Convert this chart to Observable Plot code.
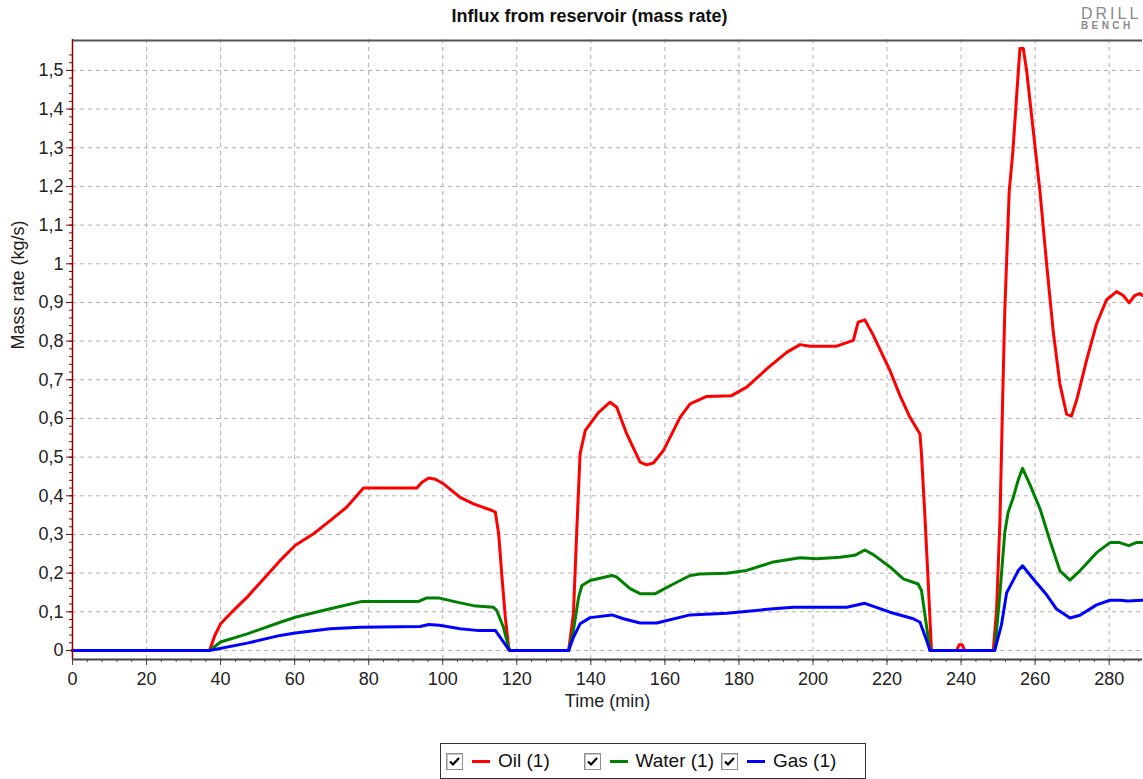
<!DOCTYPE html>
<html>
<head>
<meta charset="utf-8">
<script src="https://cdn.jsdelivr.net/npm/d3@7"></script>
<script src="https://cdn.jsdelivr.net/npm/@observablehq/plot@0.6"></script>
<style>
  html, body { margin: 0; padding: 0; background: #fff; }
  body { width: 1143px; height: 779px; position: relative; overflow: hidden;
         font-family: "Liberation Sans", Arial, sans-serif; }
  #title { position: absolute; left: 0; top: 6px; width: 1179px; text-align: center;
           font-weight: bold; font-size: 18px; line-height: 20px; color: #111; }
  #logo { position: absolute; left: 1081px; top: 6px; color: #8a8a8a; white-space: nowrap; }
  #logo .l1 { font-size: 16px; letter-spacing: 3px; line-height: 15px; }
  #logo .l2 { font-size: 10px; letter-spacing: 3.4px; line-height: 10px; font-weight: bold; }
  #chart { position: absolute; left: 0; top: 32px; }
  #legend { position: absolute; left: 440px; top: 743px; width: 426px; height: 36px;
            box-sizing: border-box; border: 1px solid #333; display: flex; align-items: center;
            padding-left: 5px; font-size: 19px; color: #111; }
  .item { width: 137.5px; flex: none; display: flex; align-items: center; }
  .item:last-child { width: auto; }
  .cb { width: 17px; height: 17px; box-sizing: border-box; border: 1px solid #8f8f8f;
        background: #fff; box-shadow: inset 1px 1px 0 #c8c8c8; flex: none; }
  .cb svg { display: block; }
  .sw { width: 18px; height: 3px; margin: 0 8px 0 9px; flex: none; }
</style>
</head>
<body>
<div id="title">Influx from reservoir (mass rate)</div>
<div id="logo"><div class="l1">DRILL</div><div class="l2">BENCH</div></div>
<div id="chart"></div>
<div id="legend"></div>
<script>
// ---- data ----
const seriesNames = ["Oil (1)", "Water (1)", "Gas (1)"];
const seriesColors = ["#ff0000", "#008000", "#0000ff"];

const oilTime = [0, 37, 38.5, 40, 42.6, 45, 47.2, 51.6, 56.1, 60.2, 65.1, 69.6, 74.1, 78.6, 93, 94.4, 96.2, 98, 100.2, 104.7, 108.3, 113.3, 114.2, 115.1, 116, 116.9, 117.8, 118.2, 134, 135.3, 136.2, 137.1, 138.5, 139.8, 142.1, 145.2, 147, 149.7, 153.3, 155, 156.9, 159.6, 164.1, 166.8, 171.3, 178, 182.1, 187.5, 192.9, 196.5, 199.2, 206.4, 210.9, 212.2, 214, 216.3, 220.8, 223.5, 226.2, 228.9, 229.3, 230.2, 231.1, 232, 238.8, 239.5, 240.3, 241, 248.7, 249.6, 250.5, 251.2, 251.8, 252.4, 253, 254, 255.1, 255.9, 256.8, 257.7, 259.5, 261.3, 263.1, 264.9, 266.7, 268.5, 269.8, 271.2, 273.9, 276.6, 279.3, 282, 283.8, 285.4, 286.9, 288.3, 289];
const oilRate = [0, 0, 0.04, 0.069, 0.095, 0.118, 0.138, 0.185, 0.233, 0.272, 0.302, 0.336, 0.371, 0.42, 0.42, 0.435, 0.446, 0.443, 0.431, 0.396, 0.379, 0.362, 0.358, 0.302, 0.19, 0.086, 0.009, 0, 0, 0.095, 0.31, 0.509, 0.569, 0.586, 0.616, 0.642, 0.629, 0.56, 0.487, 0.48, 0.485, 0.517, 0.603, 0.638, 0.657, 0.659, 0.681, 0.728, 0.771, 0.791, 0.787, 0.787, 0.802, 0.849, 0.855, 0.815, 0.724, 0.659, 0.603, 0.56, 0.509, 0.353, 0.181, 0, 0, 0.015, 0.015, 0, 0, 0.107, 0.336, 0.637, 0.876, 1.032, 1.188, 1.292, 1.448, 1.557, 1.557, 1.5, 1.344, 1.188, 1.0, 0.824, 0.689, 0.611, 0.606, 0.647, 0.751, 0.845, 0.907, 0.928, 0.918, 0.899, 0.918, 0.923, 0.918];

const waterTime = [0, 37, 40, 47.2, 56.1, 60.2, 69.6, 78.2, 93.5, 95.7, 98.8, 103.8, 108.3, 113.7, 114.6, 116.4, 118, 134, 135.3, 136.7, 137.6, 139.8, 145.7, 147, 150.6, 153.3, 157.4, 162.3, 166.8, 169.5, 176.7, 182.1, 189.3, 196.5, 201, 207.3, 211.3, 214, 216.3, 220.8, 224.4, 228.4, 229.3, 230.2, 231.6, 249.1, 250.5, 251.8, 252.7, 254, 255.4, 256.6, 258.6, 261.3, 264, 266.7, 269.4, 272.1, 276.6, 280.2, 282.8, 285.3, 287.3, 289];
const waterRate = [0, 0, 0.022, 0.043, 0.073, 0.086, 0.108, 0.127, 0.127, 0.136, 0.136, 0.125, 0.116, 0.112, 0.103, 0.06, 0, 0, 0.052, 0.138, 0.168, 0.181, 0.194, 0.19, 0.16, 0.147, 0.147, 0.172, 0.194, 0.198, 0.2, 0.207, 0.229, 0.24, 0.237, 0.241, 0.246, 0.26, 0.248, 0.216, 0.185, 0.172, 0.155, 0.095, 0, 0, 0.149, 0.305, 0.357, 0.393, 0.44, 0.471, 0.429, 0.367, 0.284, 0.206, 0.182, 0.206, 0.253, 0.279, 0.279, 0.271, 0.279, 0.279];

const gasTime = [0, 37, 47.2, 56.1, 60.2, 69.6, 77.7, 93.9, 96.2, 99.1, 104.7, 109.2, 114.2, 118, 134, 135.3, 137.1, 139.8, 145.7, 148.8, 153.3, 157.8, 166.8, 176.7, 189.3, 194.7, 209.1, 214, 220.8, 227.1, 228.9, 230.7, 231.6, 249.1, 250.9, 252.3, 254, 255.4, 256.6, 259.5, 263.1, 265.8, 269.4, 272.1, 276.6, 280.2, 283, 285, 289];
const gasRate = [0, 0, 0.019, 0.039, 0.045, 0.056, 0.06, 0.062, 0.067, 0.065, 0.056, 0.052, 0.052, 0, 0, 0.034, 0.069, 0.085, 0.092, 0.082, 0.071, 0.071, 0.092, 0.096, 0.108, 0.112, 0.112, 0.122, 0.099, 0.082, 0.073, 0.026, 0, 0, 0.066, 0.149, 0.18, 0.206, 0.219, 0.185, 0.144, 0.107, 0.084, 0.091, 0.118, 0.13, 0.13, 0.128, 0.13];

const xTicks = [0, 20, 40, 60, 80, 100, 120, 140, 160, 180, 200, 220, 240, 260, 280];
const yTicks = [0, 0.1, 0.2, 0.3, 0.4, 0.5, 0.6, 0.7, 0.8, 0.9, 1, 1.1, 1.2, 1.3, 1.4, 1.5];
const xLabel = "Time (min)";
const yLabel = "Mass rate (kg/s)";

// ---- build ----
const xDomain = [0, 289];
const yDomain = [-0.0233, 1.58];
const xMinor = d3.range(0, 289, 4);
const yMinor = d3.range(0, 78).map(i => i * 0.02);
const fmtY = d => d3.format(".1~f")(d).replace(".", ",");

const toRows = (ts, vs) => ts.map((t, i) => ({t, v: vs[i]}));
const series = [toRows(oilTime, oilRate), toRows(waterTime, waterRate), toRows(gasTime, gasRate)];
const gridStyle = {stroke: "#b0b0b0", strokeOpacity: 1, strokeWidth: 1, strokeDasharray: "4,4"};

const chart = Plot.plot({
  width: 1143,
  height: 688,
  marginTop: 7,
  marginLeft: 72,
  marginRight: 1,
  marginBottom: 61,
  style: {fontFamily: '"Liberation Sans", Arial, sans-serif', fontSize: "18px", color: "#222", background: "#fff", overflow: "visible"},
  x: {domain: xDomain},
  y: {domain: yDomain},
  marks: [
    Plot.gridY(yTicks, gridStyle),
    Plot.gridX(xTicks.filter(d => d > 0), gridStyle),
    ...series.map((rows, i) => Plot.line(rows, {x: "t", y: "v", stroke: seriesColors[i], strokeWidth: 3, strokeLinejoin: "round"})),
    // frame lines
    Plot.ruleY([yDomain[1]], {stroke: "#555", strokeWidth: 2, dy: 1}),
    Plot.ruleY([yDomain[0]], {stroke: "#444", strokeWidth: 2}),
    Plot.ruleX([0], {stroke: "#8b0000", strokeWidth: 1.5}),
    // minor ticks
    Plot.ruleX(xMinor, {y1: yDomain[0], y2: yDomain[0], insetBottom: -3, stroke: "#444"}),
    Plot.ruleY(yMinor, {x1: 0, x2: 0, insetLeft: -3, stroke: "#8b0000"}),
    // major ticks + labels
    Plot.axisX(xTicks, {tickSize: 6, tickPadding: 7, fontSize: 18, stroke: "#444", tickFormat: d => String(d), label: null}),
    Plot.axisY(yTicks, {tickSize: 6, tickPadding: 3, fontSize: 18, stroke: "#8b0000", tickFormat: fmtY, label: null}),
    Plot.text([xLabel], {text: d => d, frameAnchor: "bottom", dy: 47, fontSize: 18, fill: "#222"}),
    Plot.text([yLabel], {text: d => d, frameAnchor: "left", rotate: -90, dx: -54, fontSize: 18, fill: "#222"})
  ]
});
document.getElementById("chart").appendChild(chart);

// ---- legend ----
const legend = document.getElementById("legend");
seriesNames.forEach((name, i) => {
  const item = document.createElement("div");
  item.className = "item";
  item.innerHTML = `<span class="cb"><svg width="15" height="15" viewBox="0 0 15 15"><polyline points="3,7.5 6,10.5 12,4" fill="none" stroke="#000" stroke-width="2.2"/></svg></span>` +
    `<span class="sw" style="background:${seriesColors[i]}"></span><span>${name}</span>`;
  legend.appendChild(item);
});
</script>
</body>
</html>
